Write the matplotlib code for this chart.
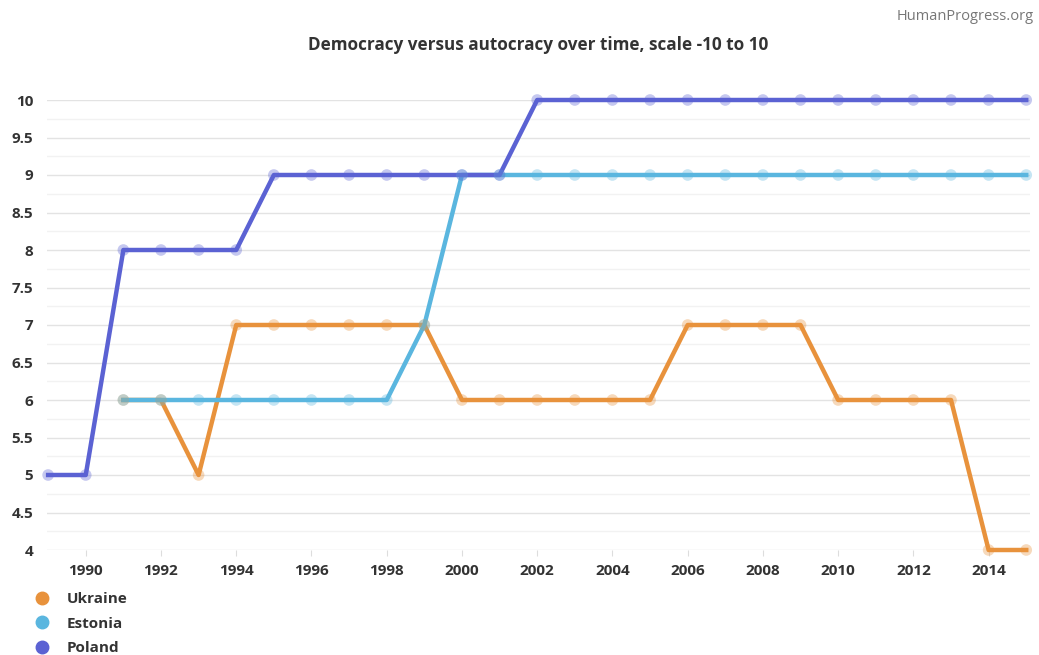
import matplotlib
matplotlib.use('Agg')
import matplotlib.pyplot as plt
from matplotlib.ticker import MultipleLocator
from matplotlib.lines import Line2D

plt.rcParams['font.family'] = ['Open Sans', 'DejaVu Sans']

# Polity scores per year
years_poland = list(range(1989, 2016))
poland = [5, 5, 8, 8, 8, 8, 9, 9, 9, 9, 9, 9, 9,
          10, 10, 10, 10, 10, 10, 10, 10, 10, 10, 10, 10, 10, 10]

years_estonia = list(range(1991, 2016))
estonia = [6, 6, 6, 6, 6, 6, 6, 6, 7, 9, 9, 9, 9,
           9, 9, 9, 9, 9, 9, 9, 9, 9, 9, 9, 9]

years_ukraine = list(range(1991, 2016))
ukraine = [6, 6, 5, 7, 7, 7, 7, 7, 7, 6, 6, 6, 6,
           6, 6, 7, 7, 7, 7, 6, 6, 6, 6, 4, 4]

series = [
    ('Ukraine', years_ukraine, ukraine, '#E8923C'),
    ('Estonia', years_estonia, estonia, '#5AB6DF'),
    ('Poland', years_poland, poland, '#5B62D3'),
]

fig = plt.figure(figsize=(10.39, 6.55), dpi=100)
ax = fig.add_axes([47 / 1039, 1 - 550 / 655, 983 / 1039, 450 / 655])

for name, xs, ys, col in series:
    ax.plot(xs, ys, color=col, lw=3.2, zorder=3, clip_on=False,
            solid_joinstyle='round')
    ax.scatter(xs, ys, s=70, color=col, alpha=0.35, edgecolors='none',
               zorder=4, clip_on=False)

ax.set_xlim(1988.97, 2015.1)
ax.set_ylim(4, 10)
ax.yaxis.set_minor_locator(MultipleLocator(0.25))

yt = [4 + 0.5 * i for i in range(13)]
ax.set_yticks(yt)
ax.set_yticklabels(['%g' % v for v in yt])
ax.set_xticks(range(1990, 2016, 2))

ax.grid(axis='y', which='major', color='#e3e3e3', lw=1)
ax.grid(axis='y', which='minor', color='#f2f2f2', lw=1)
ax.set_axisbelow(True)
for s in ax.spines.values():
    s.set_visible(False)

ax.tick_params(axis='y', which='both', length=0, pad=10, labelsize=11,
               labelcolor='#333333')
ax.tick_params(axis='x', length=4, color='#dddddd', pad=6, labelsize=11,
               labelcolor='#333333')
for lab in ax.get_xticklabels() + ax.get_yticklabels():
    lab.set_fontweight('bold')

# title centred over the plot area
fig.text(538 / 1039, 1 - 45 / 655, 'Democracy versus autocracy over time, scale -10 to 10',
         ha='center', va='center', fontsize=12.3, fontweight='bold',
         color='#333333')
fig.text(1 - 5 / 1039, 1 - 16 / 655, 'HumanProgress.org', ha='right',
         va='center', fontsize=10.5, color='#777777')

handles = [Line2D([], [], marker='o', ls='none', color=c, markersize=9)
           for _, _, _, c in series]
fig.legend(handles, [n for n, _, _, _ in series], loc='upper left',
           bbox_to_anchor=(21 / 1039, 1 - 586 / 655), frameon=False,
           handletextpad=0.6, labelspacing=0.7, borderaxespad=0,
           prop={'weight': 'bold', 'size': 11}, labelcolor='#333333')

fig.savefig('out.png', dpi=100, facecolor='white')
